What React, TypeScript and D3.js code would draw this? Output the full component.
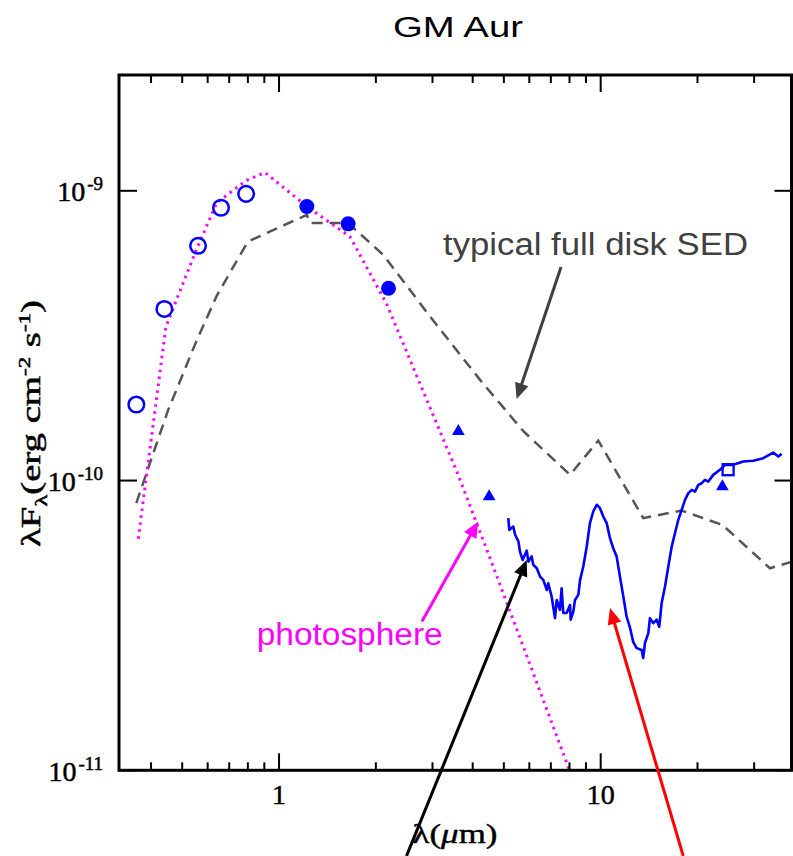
import { useEffect } from 'react';
import * as d3 from 'd3';

// photometry (µm, erg cm^-2 s^-1)
const openCircleWave = [0.36, 0.44, 0.56, 0.66, 0.79];
const openCircleFlux = [1.83e-10, 3.91e-10, 6.46e-10, 8.74e-10, 9.76e-10];
const filledCircleWave = [1.22, 1.64, 2.19];
const filledCircleFlux = [8.83e-10, 7.69e-10, 4.61e-10];
const triangleWave = [3.61, 4.5, 23.9];
const triangleFlux = [1.48e-10, 8.81e-11, 9.53e-11];
const squareWave = [24.9];
const squareFlux = [1.09e-10];

// stellar photosphere model
const photosphereWave = [0.365, 0.445, 0.55, 0.64, 0.79, 0.905, 1.235, 1.66, 2.16, 3.6, 4.5, 5.8, 8.0];
const photosphereFlux = [6.3e-11, 3.4e-10, 6.16e-10, 9.09e-10, 1.084e-9, 1.156e-9, 8.74e-10, 6.96e-10, 4.07e-10, 1.05e-10, 5.5e-11, 2.6e-11, 1.0e-11];

// typical full disk (median) SED
const fullDiskWave = [0.36, 0.4, 0.452, 0.55, 0.64, 0.8, 1.22, 1.25, 1.64, 2.11, 2.95, 4.21, 5.75, 8.03, 9.83, 13.56, 17.85, 23.9, 33.6, 39.2];
const fullDiskFlux = [8.36e-11, 1.18e-10, 1.75e-10, 2.98e-10, 4.34e-10, 6.68e-10, 8.26e-10, 7.74e-10, 7.74e-10, 6.01e-10, 3.68e-10, 2.23e-10, 1.48e-10, 1.047e-10, 1.374e-10, 7.42e-11, 7.88e-11, 7.03e-11, 4.98e-11, 5.24e-11];

// IRS spectrum
const irsWave = [
  5.16, 5.2, 5.35, 5.42, 5.55, 5.61, 5.72, 5.89, 5.96, 6.1, 6.17, 6.33, 6.48, 6.63, 6.8, 6.87, 7.04, 7.21, 7.3, 7.47,
  7.56, 7.65, 7.84, 8.03, 8.07, 8.22, 8.32, 8.52, 8.63, 8.83, 9.05, 9.26, 9.48, 9.72, 9.95, 10.19, 10.44, 10.69, 10.94, 11.21,
  11.48, 11.76, 12.04, 12.34, 12.63, 12.94, 13.41, 13.56, 13.73, 14.06, 14.23, 14.57, 14.93, 15.21, 15.47, 15.85, 16.23, 16.63, 17.02, 17.43,
  17.86, 18.29, 18.73, 19.19, 19.64, 20.12, 20.61, 21.1, 21.61, 22.39, 23.49, 24.34, 25.84, 27.76, 29.82, 32.03, 34.4, 35.66, 36.53,
];
const irsFlux = [
  7.42e-11, 6.76e-11, 6.94e-11, 6.5e-11, 6.16e-11, 5.69e-11, 5.32e-11, 5.73e-11, 5.25e-11, 5.47e-11, 5.12e-11, 4.98e-11, 4.66e-11, 4.54e-11, 4.19e-11, 4.42e-11, 3.98e-11, 3.35e-11, 3.87e-11, 3.58e-11,
  4.25e-11, 3.49e-11, 3.49e-11, 3.72e-11, 3.31e-11, 3.53e-11, 3.87e-11, 4.03e-11, 4.54e-11, 5.05e-11, 5.92e-11, 7.13e-11, 7.82e-11, 8.25e-11, 8.03e-11, 7.51e-11, 7.13e-11, 6.33e-11, 5.84e-11, 5.47e-11,
  4.66e-11, 3.98e-11, 3.39e-11, 3.1e-11, 2.77e-11, 2.64e-11, 2.6e-11, 2.44e-11, 2.75e-11, 2.97e-11, 3.35e-11, 3.22e-11, 3.31e-11, 3.13e-11, 3.77e-11, 4.31e-11, 5.05e-11, 5.92e-11, 6.58e-11, 7.32e-11,
  7.92e-11, 8.58e-11, 9.05e-11, 9.29e-11, 9.16e-11, 9.66e-11, 9.79e-11, 1.006e-10, 9.92e-11, 1.046e-10, 1.089e-10, 1.133e-10, 1.133e-10, 1.163e-10, 1.17e-10, 1.195e-10, 1.249e-10, 1.21e-10, 1.236e-10,
];

// annotation arrows (tail -> tip, data coordinates)
const arrowTailWave = [7.53, 2.78, 2.49, 18.06];
const arrowTailFlux = [5.46e-10, 3.26e-11, 5.06e-12, 5.06e-12];
const arrowTipWave = [5.48, 4.16, 5.89, 10.69];
const arrowTipFlux = [1.91e-10, 7.22e-11, 5.32e-11, 3.63e-11];

// axes
const xMajorTicks = [1, 10];
const xMajorLabels = ['1', '10'];
const xMinorTicks = [0.4, 0.5, 0.6, 0.7, 0.8, 0.9, 2, 3, 4, 5, 6, 7, 8, 9, 20, 30];
const yMajorTicks = [1e-11, 1e-10, 1e-9];
const yMajorExponents = ['-11', '-10', '-9'];

const arrowColors = ['#404040', '#ff00ff', '#000000', '#ff0000'];
const BLUE = '#0000ff';

const W = 793;
const H = 856;
const left = 119;
const right = 791.5;
const top = 75;
const bottom = 770.3;

const x = d3.scaleLog().domain([0.318, 39.2]).range([left, right]);
const y = d3.scaleLog().domain([1e-11, 2.51e-9]).range([bottom, top]);

const line = d3.line<[number, number]>().x(d => x(d[0])).y(d => y(d[1]));
const zip = (a: number[], b: number[]) => a.map((v, i) => [v, b[i]] as [number, number]);

function Arrow({ i }: { i: number }) {
  const x0 = x(arrowTailWave[i]), y0 = y(arrowTailFlux[i]);
  const x1 = x(arrowTipWave[i]), y1 = y(arrowTipFlux[i]);
  const len = Math.hypot(x1 - x0, y1 - y0);
  const ux = (x1 - x0) / len, uy = (y1 - y0) / len;
  const headLen = 16, headHalf = 7;
  const bx = x1 - ux * headLen, by = y1 - uy * headLen;
  const pts = [
    [x1, y1],
    [bx - uy * headHalf, by + ux * headHalf],
    [bx + uy * headHalf, by - ux * headHalf],
  ];
  return (
    <g>
      <line x1={x0} y1={y0} x2={bx + ux * 2} y2={by + uy * 2} stroke={arrowColors[i]} strokeWidth={3} />
      <polygon points={pts.map(p => p.join(',')).join(' ')} fill={arrowColors[i]} />
    </g>
  );
}

export default function App() {
  useEffect(() => {
    document.body.style.margin = '0';
  }, []);

  const tri = d3.symbol().type(d3.symbolTriangle).size(70)();
  const serif = '"Liberation Serif", "DejaVu Serif", serif';
  const sans = '"Liberation Sans", Arial, sans-serif';

  return (
    <svg width={W} height={H} style={{ display: 'block', background: '#fff' }}>
      <defs>
        <clipPath id="plot">
          <rect x={left} y={top} width={right - left} height={bottom - top} />
        </clipPath>
      </defs>

      <text x={458} y={37} textAnchor="middle" fontFamily={sans} fontSize={30} textLength={130} lengthAdjust="spacingAndGlyphs">GM Aur</text>

      <g clipPath="url(#plot)">
        <path d={line(zip(fullDiskWave, fullDiskFlux)) || ''} fill="none" stroke="#555555" strokeWidth={2.5} strokeDasharray="11,7" />
        <path d={line(zip(photosphereWave, photosphereFlux)) || ''} fill="none" stroke="#ff00ff" strokeWidth={3} strokeDasharray="2.5,4.5" />
        <path d={line(zip(irsWave, irsFlux)) || ''} fill="none" stroke={BLUE} strokeWidth={2.6} strokeLinejoin="round" />
      </g>

      {openCircleWave.map((w, i) => (
        <circle key={'o' + i} cx={x(w)} cy={y(openCircleFlux[i])} r={7.8} fill="none" stroke={BLUE} strokeWidth={2.5} />
      ))}
      {filledCircleWave.map((w, i) => (
        <circle key={'f' + i} cx={x(w)} cy={y(filledCircleFlux[i])} r={7.5} fill={BLUE} />
      ))}
      {triangleWave.map((w, i) => (
        <path key={'t' + i} d={tri || ''} transform={`translate(${x(w)},${y(triangleFlux[i])})`} fill={BLUE} />
      ))}
      {squareWave.map((w, i) => (
        <rect key={'s' + i} x={x(w) - 5.5} y={y(squareFlux[i]) - 5.5} width={11} height={11} fill="none" stroke={BLUE} strokeWidth={2.3} />
      ))}

      {/* frame */}
      <rect x={left} y={top} width={right - left} height={bottom - top} fill="none" stroke="#000" strokeWidth={3} />

      {xMajorTicks.map(t => (
        <g key={'xm' + t}>
          <line x1={x(t)} x2={x(t)} y1={bottom} y2={bottom - 17} stroke="#000" strokeWidth={2} />
          <line x1={x(t)} x2={x(t)} y1={top} y2={top + 17} stroke="#000" strokeWidth={2} />
        </g>
      ))}
      {xMinorTicks.map(t => (
        <g key={'xn' + t}>
          <line x1={x(t)} x2={x(t)} y1={bottom} y2={bottom - 8} stroke="#000" strokeWidth={2} />
          <line x1={x(t)} x2={x(t)} y1={top} y2={top + 8} stroke="#000" strokeWidth={2} />
        </g>
      ))}
      {yMajorTicks.map(t => (
        <g key={'ym' + t}>
          <line x1={left} x2={left + 18} y1={y(t)} y2={y(t)} stroke="#000" strokeWidth={2} />
          <line x1={right} x2={right - 17} y1={y(t)} y2={y(t)} stroke="#000" strokeWidth={2} />
        </g>
      ))}

      {xMajorTicks.map((t, i) => (
        <text key={'xl' + t} x={x(t)} y={804} textAnchor="middle" fontFamily={serif} fontSize={28} stroke="#000" strokeWidth={0.5}>{xMajorLabels[i]}</text>
      ))}
      {yMajorTicks.map((t, i) => (
        <text key={'yl' + t} x={103} y={y(t) + 10.5} textAnchor="end" fontFamily={serif} fontSize={28} stroke="#000" strokeWidth={0.5}>
          10<tspan dx={2} dy={-11} fontSize={19}>{yMajorExponents[i]}</tspan>
        </text>
      ))}

      <text x={455} y={843} textAnchor="middle" fontFamily={serif} fontSize={27} textLength={85} lengthAdjust="spacingAndGlyphs" stroke="#000" strokeWidth={0.4}>
        λ(<tspan fontStyle="italic">μ</tspan>m)
      </text>

      <text transform="translate(40,423.5) rotate(-90)" textAnchor="middle" fontFamily={serif} fontSize={27} textLength={247} lengthAdjust="spacingAndGlyphs" stroke="#000" strokeWidth={0.5}>
        λF<tspan dy={7} fontSize={17}>λ</tspan><tspan dy={-7}>(erg cm</tspan><tspan dy={-10} fontSize={16}>-2</tspan><tspan dy={10}> s</tspan><tspan dy={-10} fontSize={16}>-1</tspan><tspan dy={10}>)</tspan>
      </text>

      <text x={443} y={255} fontFamily={sans} fontSize={31} fill="#404040" textLength={305} lengthAdjust="spacingAndGlyphs">typical full disk SED</text>
      <text x={256.7} y={645} fontFamily={sans} fontSize={31} fill="#ff00ff" textLength={186} lengthAdjust="spacingAndGlyphs">photosphere</text>

      {arrowTailWave.map((_, i) => <Arrow key={'a' + i} i={i} />)}
    </svg>
  );
}
